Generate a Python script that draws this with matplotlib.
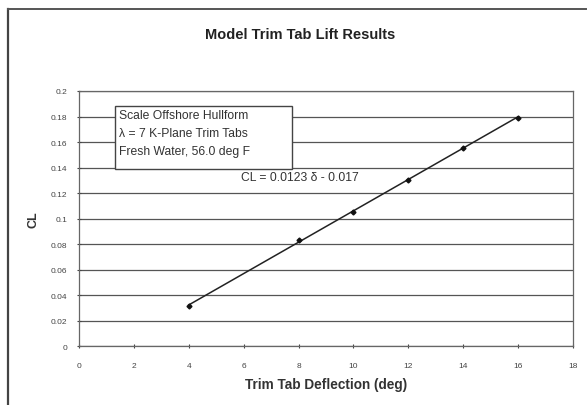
import numpy as np
import matplotlib.pyplot as plt
from matplotlib.lines import Line2D
from matplotlib.patches import Rectangle

plt.rcParams['font.family'] = ['Liberation Sans', 'DejaVu Sans']

# measured points
deflection = [4, 8, 10, 12, 14, 16]
cl = [0.031, 0.083, 0.105, 0.130, 0.155, 0.179]

# linear trendline as printed on chart
slope = 0.0123
intercept = -0.017

x_ticks = [0, 2, 4, 6, 8, 10, 12, 14, 16, 18]
y_ticks = [0, 0.02, 0.04, 0.06, 0.08, 0.1, 0.12, 0.14, 0.16, 0.18, 0.2]
y_labels = ["0", "0.02", "0.04", "0.06", "0.08", "0.1", "0.12", "0.14", "0.16", "0.18", "0.2"]

fig = plt.figure(figsize=(5.87, 4.06), dpi=100)
ax = fig.add_axes([0.1346, 0.1453, 0.8414, 0.6281])

# outer chart frame
fig.add_artist(Line2D([0.0136, 0.0136], [0.0, 0.975], color="#444444", lw=1.6, transform=fig.transFigure))
fig.add_artist(Line2D([0.0136, 0.998], [0.975, 0.975], color="#555555", lw=1.4, transform=fig.transFigure))

ax.set_xlim(0, 18)
ax.set_ylim(0, 0.2)
ax.set_xticks(x_ticks)
ax.set_yticks(y_ticks)
ax.set_yticklabels(y_labels)
ax.tick_params(labelsize=6, colors="#444444", length=3, width=0.8, direction="inout")
ax.tick_params(axis="x", pad=10)
ax.tick_params(axis="y", pad=7)

ax.yaxis.grid(True, color="#555555", lw=0.9)
ax.set_axisbelow(True)
for s in ax.spines.values():
    s.set_color("#666666")
    s.set_linewidth(0.9)

xs = np.array([deflection[0], deflection[-1]])
ax.plot(xs, slope * xs + intercept, color="#222222", lw=1.1)
ax.plot(deflection, cl, ls="none", marker="D", ms=2.5, color="#111111")

ax.set_xlabel("Trim Tab Deflection (deg)", fontsize=9.8, fontweight="bold", color="#333333", labelpad=6)
ax.set_ylabel("CL", fontsize=9, fontweight="bold", color="#333333", labelpad=8)
fig.text(0.511, 0.914, "Model Trim Tab Lift Results", ha="center", va="center",
         fontsize=10.5, fontweight="bold", color="#222222")

ax.add_patch(Rectangle((1.31, 0.1386), 6.45, 0.05, fc="white", ec="#444444", lw=1.0, zorder=3))
ax.text(1.45, 0.1672, "Scale Offshore Hullform\n\u03bb = 7 K-Plane Trim Tabs\nFresh Water, 56.0 deg F",
        fontsize=8.7, color="#333333", va="center", ha="left", linespacing=1.7, zorder=4)
ax.text(8.05, 0.1325, "CL = 0.0123 \u03b4 - 0.017", fontsize=8.7, color="#333333", ha="center", va="center")

fig.savefig("out.png", dpi=100)
